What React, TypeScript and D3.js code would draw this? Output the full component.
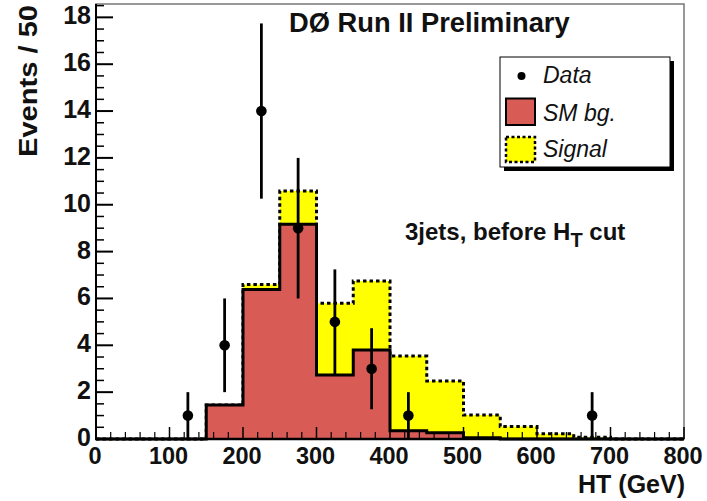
import React from "react";
import * as d3 from "d3";

// ---- data ----
const binLow = [0, 50, 100, 150, 200, 250, 300, 350, 400, 450, 500, 550, 600, 650, 700, 750];
const binWidth = 50;
const smBg = [0, 0, 0, 1.45, 6.38, 9.17, 2.73, 3.8, 0.35, 0.27, 0.05, 0, 0, 0, 0, 0];
const signal = [0, 0, 0, 0, 0.22, 1.42, 3.06, 2.95, 3.19, 2.21, 0.97, 0.53, 0.22, 0.08, 0, 0];
const dataX = [125, 175, 225, 275, 325, 375, 425, 675];
const dataY = [1, 4, 14, 9, 5, 3, 1, 1];
const dataErr = [1, 2, 3.74, 3, 2.24, 1.73, 1, 1];
const xTicks = [0, 100, 200, 300, 400, 500, 600, 700, 800];
const yTicks = [0, 2, 4, 6, 8, 10, 12, 14, 16, 18];

const W = 707;
const H = 501;
const FONT = "'Liberation Sans', Arial, Helvetica, sans-serif";
const RED = "#d85b55";
const YELLOW = "#ffff00";

export default function App() {
  const x = d3.scaleLinear().domain([0, 800]).range([96, 684]);
  const y = d3.scaleLinear().domain([0, 18.57]).range([439, 4]);

  const total = smBg.map((v, i) => v + signal[i]);
  const mk = (vals: number[]) => {
    const pts = binLow.map((lo, i) => ({ x: lo, v: vals[i] }));
    pts.push({ x: binLow[binLow.length - 1] + binWidth, v: vals[vals.length - 1] });
    return pts;
  };
  const area = d3
    .area<{ x: number; v: number }>()
    .x((d) => x(d.x))
    .y0(y(0))
    .y1((d) => y(d.v))
    .curve(d3.curveStepAfter);
  const line = d3
    .line<{ x: number; v: number }>()
    .x((d) => x(d.x))
    .y((d) => y(d.v))
    .curve(d3.curveStepAfter);

  const totPts = mk(total);
  const smPts = mk(smBg);

  const minorX = d3.range(0, 801, 20).filter((v) => v % 100 !== 0);
  const minorY = d3.range(0, 18.51, 0.5).filter((v) => Math.abs(v % 2) > 1e-6);

  return (
    <svg width={W} height={H} style={{ position: "absolute", left: 0, top: 0, background: "#fff" }}>
      {/* frame */}
      <rect x={x(0)} y={y(18.57)} width={x(800) - x(0)} height={y(0) - y(18.57)} fill="#fff" stroke="#777" strokeWidth={1.5} />

      {/* stacked signal */}
      <path d={area(totPts) || ""} fill={YELLOW} />
      <path d={line(totPts) || ""} fill="none" stroke="#000" strokeWidth={3} strokeDasharray="3.5,3" />
      {/* SM background */}
      <path d={area(smPts) || ""} fill={RED} />
      <path d={line(smPts) || ""} fill="none" stroke="#000" strokeWidth={3} />

      {/* axes */}
      <line x1={x(0)} x2={x(0)} y1={y(0) + 1} y2={y(18.57)} stroke="#000" strokeWidth={2} />
      <line x1={x(0) - 1} x2={x(800)} y1={y(0)} y2={y(0)} stroke="#000" strokeWidth={2.5} />
      {yTicks.map((t) => (
        <line key={"ym" + t} x1={x(0)} x2={x(0) + 17} y1={y(t)} y2={y(t)} stroke="#000" strokeWidth={2} />
      ))}
      {minorY.map((t) => (
        <line key={"yn" + t} x1={x(0)} x2={x(0) + 8} y1={y(t)} y2={y(t)} stroke="#000" strokeWidth={1.5} />
      ))}
      {xTicks.map((t) => (
        <line key={"xm" + t} x1={x(t)} x2={x(t)} y1={y(0)} y2={y(0) - 12} stroke="#000" strokeWidth={1.5} />
      ))}
      {minorX.map((t) => (
        <line key={"xn" + t} x1={x(t)} x2={x(t)} y1={y(0)} y2={y(0) - 7} stroke="#000" strokeWidth={1.2} />
      ))}
      {yTicks.map((t) => (
        <text key={"yl" + t} x={x(0) - 5} y={y(t) + 7} textAnchor="end" fontFamily={FONT} fontWeight="bold" fontSize={25} fill="#111">
          {t}
        </text>
      ))}
      {xTicks.map((t) => (
        <text key={"xl" + t} x={x(t) - 1} y={464} textAnchor="middle" fontFamily={FONT} fontWeight="bold" fontSize={23.5} fill="#111">
          {t}
        </text>
      ))}

      {/* data points */}
      {dataX.map((dx, i) => (
        <g key={"d" + i}>
          <line x1={x(dx)} x2={x(dx)} y1={y(Math.max(0, dataY[i] - dataErr[i]))} y2={y(dataY[i] + dataErr[i])} stroke="#000" strokeWidth={2.8} />
          <circle cx={x(dx)} cy={y(dataY[i])} r={5.3} fill="#000" />
        </g>
      ))}

      {/* axis titles */}
      <text x={685} y={493} textAnchor="end" fontFamily={FONT} fontWeight="bold" fontSize={25} fill="#111">
        HT (GeV)
      </text>
      <text
        transform="translate(37,81) rotate(-90)"
        textAnchor="middle"
        fontFamily={FONT}
        fontWeight="bold"
        fontSize={26}
        fill="#111"
        textLength={152}
        lengthAdjust="spacingAndGlyphs"
      >
        Events / 50
      </text>

      {/* title */}
      <text x={289} y={32} fontFamily={FONT} fontWeight="bold" fontSize={27.3} fill="#111">
        DØ Run II Preliminary
      </text>

      {/* annotation */}
      <text x={405} y={240} fontFamily={FONT} fontWeight="bold" fontSize={24} fill="#111">
        3jets, before H
        <tspan fontSize={20} dy={7}>T</tspan>
        <tspan dy={-7}> cut</tspan>
      </text>

      {/* legend */}
      <rect x={504} y={61} width={170} height={110} fill="#000" />
      <rect x={500} y={57} width={170} height={110} fill="#fff" stroke="#000" strokeWidth={1} />
      <circle cx={521.5} cy={76} r={4} fill="#000" />
      <text x={543} y={83} fontFamily={FONT} fontStyle="italic" fontSize={23} fill="#111">Data</text>
      <rect x={506} y={98.5} width={29} height={26.5} fill={RED} stroke="#000" strokeWidth={2} />
      <text x={543} y={121} fontFamily={FONT} fontStyle="italic" fontSize={23} fill="#111">SM bg.</text>
      <rect x={506} y={137} width={29} height={25} fill={YELLOW} stroke="#000" strokeWidth={2.5} strokeDasharray="3,2.5" />
      <text x={543} y={157} fontFamily={FONT} fontStyle="italic" fontSize={23} fill="#111">Signal</text>
    </svg>
  );
}
